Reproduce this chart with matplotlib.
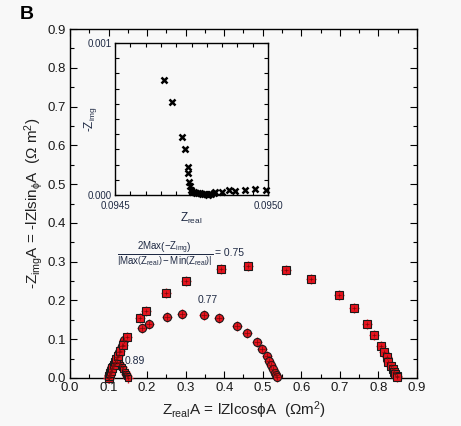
import numpy as np
import matplotlib
matplotlib.use('Agg')
import matplotlib.pyplot as plt
from matplotlib.ticker import MultipleLocator

plt.rcParams['font.family'] = ['Liberation Sans', 'DejaVu Sans']
plt.rcParams['mathtext.fontset'] = 'custom'
plt.rcParams['mathtext.rm'] = 'Liberation Sans'
plt.rcParams['mathtext.it'] = 'Liberation Sans'

# large arc (squares), ratio 0.75
sq_x = [0.100, 0.102, 0.104, 0.107, 0.110, 0.113, 0.116, 0.120, 0.124, 0.130, 0.137,
        0.147, 0.182, 0.197, 0.249, 0.300, 0.391, 0.462, 0.560, 0.625, 0.698, 0.736,
        0.771, 0.789, 0.807, 0.814, 0.821, 0.826, 0.832, 0.837, 0.840, 0.844, 0.847, 0.849]
sq_y = [0.000, 0.006, 0.012, 0.019, 0.026, 0.034, 0.042, 0.050, 0.058, 0.070, 0.085,
        0.105, 0.155, 0.173, 0.218, 0.250, 0.281, 0.290, 0.278, 0.256, 0.214, 0.181,
        0.138, 0.112, 0.083, 0.068, 0.053, 0.042, 0.031, 0.022, 0.015, 0.010, 0.005, 0.002]

# medium arc (circles), ratio 0.77
ci_x = [0.100, 0.103, 0.106, 0.109, 0.112, 0.116, 0.121, 0.127, 0.134, 0.141, 0.188,
        0.204, 0.251, 0.290, 0.348, 0.386, 0.432, 0.458, 0.484, 0.497, 0.510, 0.517,
        0.522, 0.527, 0.531, 0.534, 0.536]
ci_y = [0.000, 0.008, 0.016, 0.024, 0.032, 0.042, 0.053, 0.067, 0.083, 0.098, 0.130,
        0.139, 0.158, 0.165, 0.162, 0.154, 0.134, 0.117, 0.092, 0.076, 0.057, 0.045,
        0.033, 0.022, 0.014, 0.007, 0.002]

# small arc, ratio 0.89
sm_x = [0.098, 0.100, 0.103, 0.106, 0.110, 0.114, 0.118, 0.122, 0.126, 0.130, 0.134,
        0.138, 0.142, 0.146, 0.149, 0.151]
sm_y = [0.000, 0.008, 0.016, 0.024, 0.031, 0.036, 0.040, 0.041, 0.039, 0.034, 0.028,
        0.022, 0.016, 0.010, 0.005, 0.001]

# inset zoom on the high frequency intercept
ins_x = [0.094660, 0.094687, 0.094718, 0.094728, 0.094738, 0.094740, 0.094742, 0.094744,
         0.094747, 0.094752, 0.094758, 0.094765, 0.094772, 0.094778, 0.094785, 0.094792,
         0.094798, 0.094803, 0.094808, 0.094815, 0.094822, 0.094828, 0.094851, 0.094871,
         0.094893, 0.094924, 0.094956, 0.094992]
ins_y = [0.000758, 0.000613, 0.000380, 0.000303, 0.000187, 0.000143, 0.000088, 0.000062,
         0.000033, 0.000022, 0.000018, 0.000015, 0.000013, 0.000011, 0.000009, 0.000007,
         0.000004, 0.000002, 0.000004, 0.000009, 0.000013, 0.000018, 0.000018, 0.000033,
         0.000029, 0.000035, 0.000037, 0.000033]

bg = '#f8f8f8'
red = '#e8141e'
navy = '#1f2a44'

fig = plt.figure(figsize=(4.61, 4.26), dpi=100, facecolor=bg)
ax = fig.add_axes([0.1518, 0.1127, 0.7527, 0.8192], facecolor=bg)

def arc(x, y, marker, ms):
    ax.plot(x, y, ls='none', marker='+', ms=ms + 2, mew=1.0, color=red, clip_on=False, zorder=3)
    ax.plot(x, y, ls='none', marker=marker, ms=ms, mfc=red, mec='#1a1a1a', mew=0.8,
            clip_on=False, zorder=4)
    ax.plot(x, y, ls='none', marker='+', ms=ms - 2, mew=0.5, color='#7a0a0a', clip_on=False, zorder=5)

arc(sm_x, sm_y, 's', 5)
arc(ci_x, ci_y, 'o', 5.8)
arc(sq_x, sq_y, 's', 5.2)

ax.set_xlim(0, 0.9)
ax.set_ylim(0, 0.9)
ax.xaxis.set_major_locator(MultipleLocator(0.1))
ax.yaxis.set_major_locator(MultipleLocator(0.1))
ax.xaxis.set_minor_locator(MultipleLocator(0.05))
ax.yaxis.set_minor_locator(MultipleLocator(0.05))
ax.xaxis.set_major_formatter(plt.FormatStrFormatter('%.1f'))
ax.yaxis.set_major_formatter(plt.FormatStrFormatter('%.1f'))
ax.tick_params(which='both', direction='in', top=True, right=True, labelsize=9.5,
               labelcolor='#1a1a1a', pad=3)
ax.tick_params(which='major', length=5, width=0.8)
ax.tick_params(which='minor', length=3, width=0.8)
for s in ax.spines.values():
    s.set_linewidth(1.0)

ax.set_xlabel(r'$Z_{\mathrm{real}}$A = lZlcos$\phi$A  ($\Omega$m$^{2}$)', fontsize=11,
              color='#222222', labelpad=4)
ax.set_ylabel(r'-$Z_{\mathrm{img}}$A = -lZlsin$_{\phi}$A  ($\Omega$ m$^{2}$)', fontsize=11,
              color='#222222', labelpad=2)

ax.text(0.2465, 0.32,
        r'$\frac{2\mathrm{Max}\left(-Z_{\mathrm{img}}\right)}'
        r'{\left|\mathrm{Max}\left(Z_{\mathrm{real}}\right)-\mathrm{Min}\left(Z_{\mathrm{real}}\right)\right|}$',
        fontsize=10, color=navy, ha='center', va='center')
ax.text(0.376, 0.322, '= 0.75', fontsize=7.5, color=navy, ha='left', va='center')
ax.text(0.357, 0.2, '0.77', fontsize=7.5, color=navy, ha='center', va='center')
ax.text(0.143, 0.045, '0.89', fontsize=7.5, color=navy, ha='left', va='center')

fig.text(0.043, 0.965, 'B', fontsize=14, fontweight='bold', ha='left', va='center')

# inset
ins = fig.add_axes([0.2495, 0.5423, 0.332, 0.357], facecolor=bg)
ins.plot(ins_x, ins_y, ls='none', marker='x', ms=5, mew=1.8, color='black', clip_on=False)
ins.set_xlim(0.0945, 0.0950)
ins.set_ylim(0, 0.001)
ins.set_xticks([0.0945, 0.0950])
ins.set_xticklabels(['0.0945', '0.0950'])
ins.set_yticks([0, 0.001])
ins.set_yticklabels(['0.000', '0.001'])
ins.xaxis.set_minor_locator(MultipleLocator(0.00005))
ins.yaxis.set_minor_locator(MultipleLocator(0.0001))
ins.tick_params(which='both', direction='in', top=True, right=True, labelsize=7,
                labelcolor=navy, length=3, width=0.8, pad=2)
ins.tick_params(axis='x', which='both', pad=4.5)
for s in ins.spines.values():
    s.set_linewidth(1.0)
ins.set_xlabel(r'$Z_{\mathrm{real}}$', fontsize=8.5, color=navy, labelpad=0)
ins.set_ylabel(r'-$Z_{\mathrm{img}}$', fontsize=8.5, color=navy, labelpad=-8)

fig.savefig('out.png', dpi=100, facecolor=bg)
